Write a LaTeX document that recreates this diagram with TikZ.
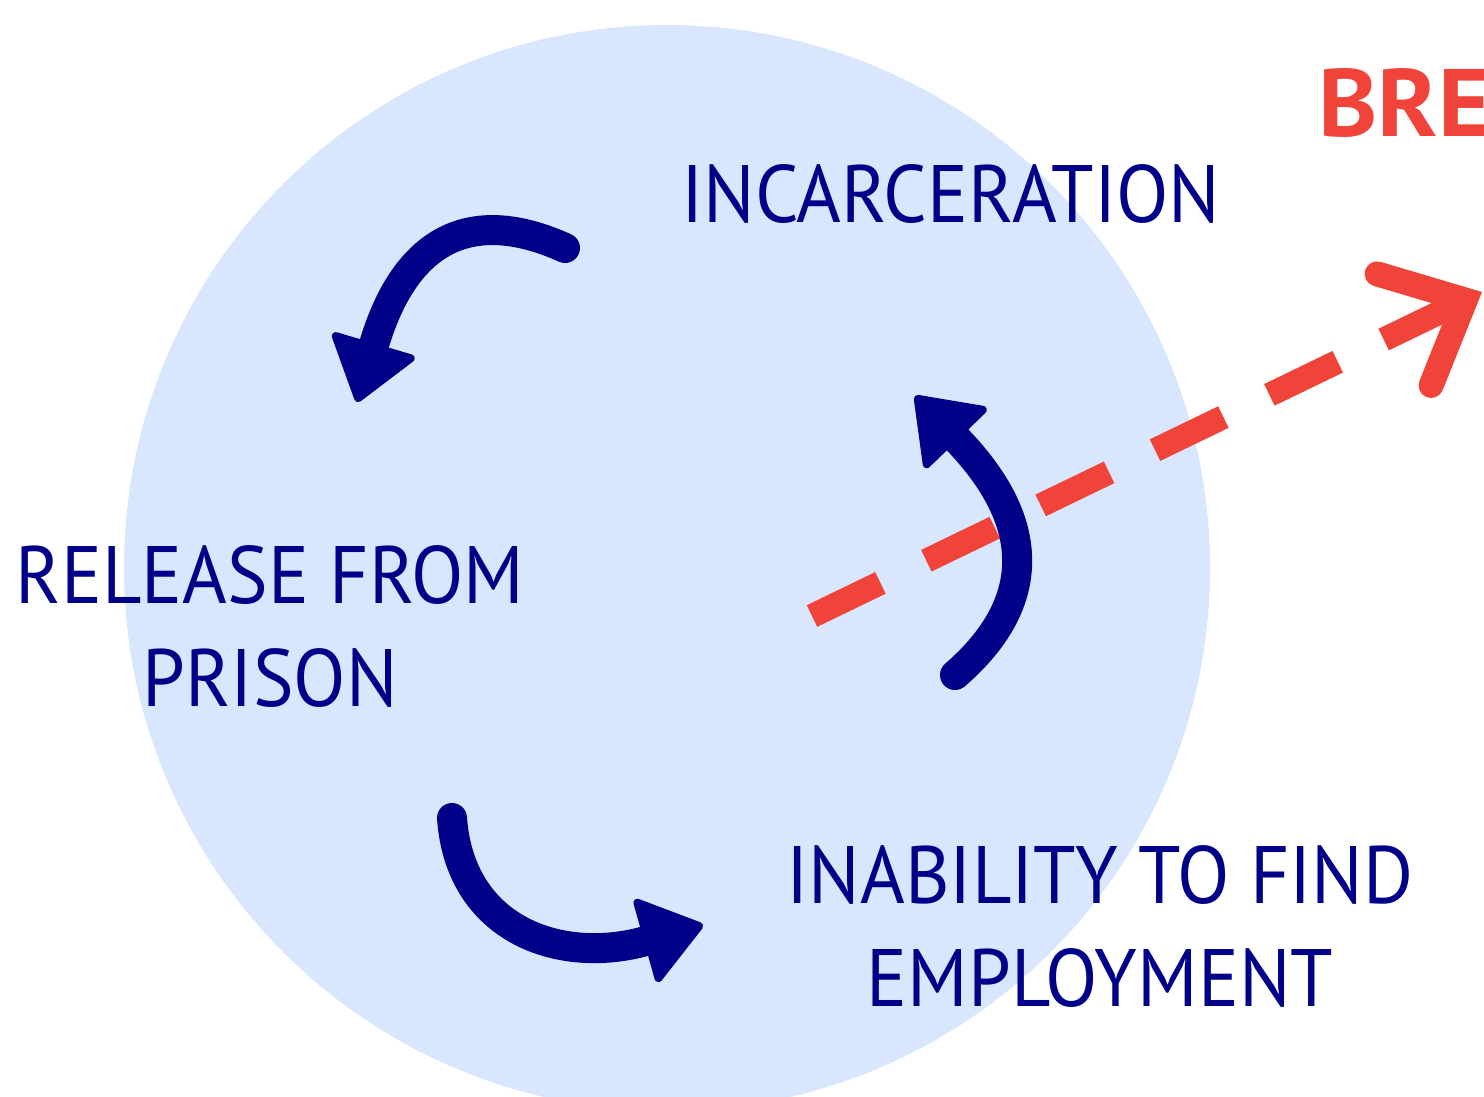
\documentclass[tikz,border=0pt]{standalone}
\usepackage{fontspec}
\setmainfont[FakeStretch=0.94]{PT Sans}
\newfontfamily\breakfont[FakeStretch=1.05]{PT Sans}
\usetikzlibrary{arrows.meta}

\definecolor{cyclenavy}{HTML}{000088}
\definecolor{breakred}{HTML}{F0443A}
\definecolor{cyclebg}{HTML}{D8E7FD}

\begin{document}
\begin{tikzpicture}[x=0.5pt, y=-0.5pt,
    stage/.style={text=cyclenavy, font=\fontsize{40.7}{51.5}\selectfont, align=center, inner sep=0pt},
    cyclearrow/.style={draw=cyclenavy, line width=15pt, line cap=round,
        -{Triangle[length=32pt, width=46pt, line width=4pt, round]}},
    breakline/.style={draw=breakred, line width=12pt, dash pattern=on 38pt off 25.5pt,
        -{Straight Barb[length=34pt, width=62pt, line width=12.5pt, line join=miter, line cap=round]}}]
    \useasboundingbox (0,0) rectangle (1484,1097);
    \fill[cyclebg] (667,568) circle [radius=271.5pt];

    \node[stage, anchor=base] (incarceration) at (951,222) {INCARCERATION};
    \node[stage, anchor=base] (release) at (270,706) {RELEASE FROM\\PRISON};
    \node[stage, anchor=base] (inability) at (1100,1006) {INABILITY TO FIND\\EMPLOYMENT};
    \node[text=breakred, font=\breakfont\fontsize{47.9}{50}\bfseries, anchor=base west, inner sep=0pt] (breaktext) at (1318,137) {BREA};

    \coordinate (cutstart) at (812,616);
    \coordinate (cuttip) at (1482,292);
    \draw[breakline] (cutstart) -- (cuttip);

    \coordinate (a1) at (565,248);
    \coordinate (b1) at (357,402);
    \coordinate (a2) at (452,818);
    \coordinate (b2) at (703,925);
    \coordinate (a3) at (955,675);
    \coordinate (b3) at (915,396);
    \draw[cyclearrow] (a1) .. controls (470,205) and (405,240) .. (b1);
    \draw[cyclearrow] (a2) .. controls (460,930) and (560,965) .. (b2);
    \draw[cyclearrow] (a3) .. controls (1030,610) and (1045,530) .. (b3);
\end{tikzpicture}
\end{document}
